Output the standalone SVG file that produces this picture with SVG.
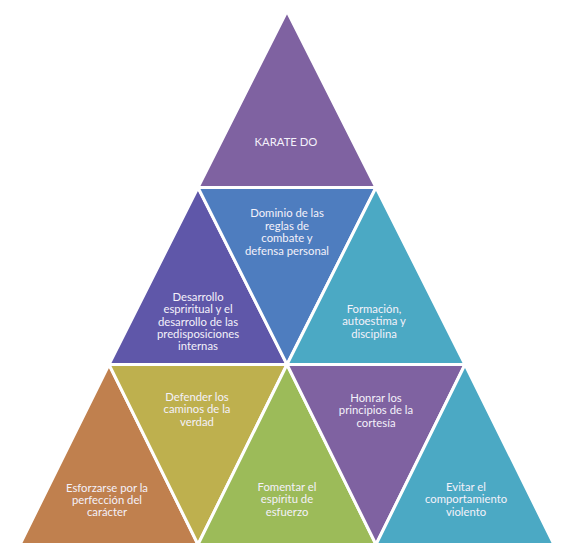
<svg xmlns="http://www.w3.org/2000/svg" width="569" height="556" viewBox="0 0 569 556">
<style>
.t{stroke:#fff;stroke-width:3;stroke-linejoin:miter}
.l{font-family:Lato,"Liberation Sans",Arial,sans-serif;font-size:11.3px;fill:#F4F1FA;text-anchor:middle}
</style>
<rect width="569" height="556" fill="#fff"/>
<g id="karate-do"><polygon class="t" fill="#7F62A1" points="287,11 198,187.5 376,187.5"/>
<text class="l" x="286" y="146">KARATE DO</text></g>
<g id="desarrollo"><polygon class="t" fill="#5F57A9" points="198,187.5 109,364.5 287,364.5"/>
<text class="l" x="198"><tspan x="198" y="301">Desarrollo</tspan><tspan x="198" y="313.3">espriritual y el</tspan><tspan x="198" y="325.6">desarrollo de las</tspan><tspan x="198" y="337.9">predisposiciones</tspan><tspan x="198" y="350.2">internas</tspan></text></g>
<g id="dominio"><polygon class="t" fill="#4E7DBF" points="198,187.5 376,187.5 287,364.5"/>
<text class="l"><tspan x="287" y="217">Dominio de las</tspan><tspan x="287" y="229.5">reglas de</tspan><tspan x="287" y="242">combate y</tspan><tspan x="287" y="254.5">defensa personal</tspan></text></g>
<g id="formacion"><polygon class="t" fill="#4BA9C4" points="376,187.5 287,364.5 465,364.5"/>
<text class="l"><tspan x="374" y="313">Formación,</tspan><tspan x="374" y="325.3">autoestima y</tspan><tspan x="374" y="337.6">disciplina</tspan></text></g>
<g id="esforzarse"><polygon class="t" fill="#C0804E" points="109,364.5 20,544.5 198,544.5"/>
<text class="l"><tspan x="107" y="491.5">Esforzarse por la</tspan><tspan x="107" y="503.5">perfección del</tspan><tspan x="107" y="515.5">carácter</tspan></text></g>
<g id="defender"><polygon class="t" fill="#BEB04E" points="109,364.5 287,364.5 198,544.5"/>
<text class="l"><tspan x="197" y="400.5">Defender los</tspan><tspan x="197" y="413">caminos de la</tspan><tspan x="197" y="425.5">verdad</tspan></text></g>
<g id="fomentar"><polygon class="t" fill="#9CBB59" points="287,364.5 198,544.5 376,544.5"/>
<text class="l"><tspan x="287" y="491">Fomentar el</tspan><tspan x="287" y="503.3">espíritu de</tspan><tspan x="287" y="515.6">esfuerzo</tspan></text></g>
<g id="honrar"><polygon class="t" fill="#7F62A1" points="287,364.5 465,364.5 376,544.5"/>
<text class="l"><tspan x="376" y="401.5">Honrar los</tspan><tspan x="376" y="414">principios de la</tspan><tspan x="376" y="426.5">cortesía</tspan></text></g>
<g id="evitar"><polygon class="t" fill="#4BA9C4" points="465,364.5 376,544.5 554,544.5"/>
<text class="l"><tspan x="466" y="491">Evitar el</tspan><tspan x="466" y="503.3">comportamiento</tspan><tspan x="466" y="515.6">violento</tspan></text></g>
</svg>
